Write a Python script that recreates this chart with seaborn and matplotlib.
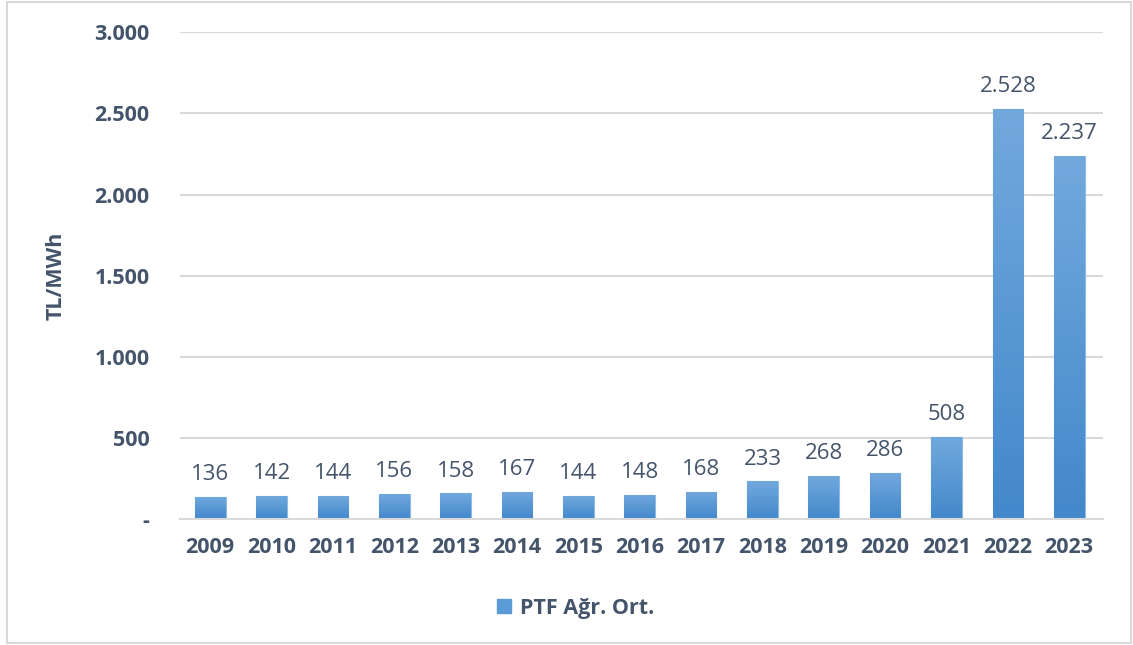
import numpy as np
import pandas as pd
import matplotlib
matplotlib.use("Agg")
import matplotlib.pyplot as plt
import seaborn as sns
from matplotlib.patches import Rectangle
from matplotlib.colors import LinearSegmentedColormap

years = ["2009", "2010", "2011", "2012", "2013", "2014", "2015", "2016",
         "2017", "2018", "2019", "2020", "2021", "2022", "2023"]
ptf = [136, 142, 144, 156, 158, 167, 144, 148, 168, 233, 268, 286, 508, 2528, 2237]
labels = ["136", "142", "144", "156", "158", "167", "144", "148", "168",
          "233", "268", "286", "508", "2.528", "2.237"]

df = pd.DataFrame({"year": years, "ptf": ptf, "series": "PTF Ağr. Ort."})

sns.set_style("white")
plt.rcParams['font.family'] = ['Open Sans', 'DejaVu Sans']

text_color = "#44546A"
bar_color = "#5B9BD5"
grad = LinearSegmentedColormap.from_list("bar", ["#4388CB", "#72A9DD"])

fig = plt.figure(figsize=(11.33, 6.45), dpi=100)
ax = fig.add_axes([0.159, 0.1953, 0.8145, 0.7547])

sns.barplot(data=df, x="year", y="ptf", hue="series", palette=[bar_color],
            saturation=1, width=0.5, ax=ax, legend=False)

ax.set_ylim(0, 3000)
ax.set_xlim(-0.49, len(years) - 0.45)

# vertical gradient inside each bar
for bar in list(ax.patches):
    x0, w, h = bar.get_x(), bar.get_width(), bar.get_height()
    bar.set_edgecolor("#8DBBE6")
    bar.set_linewidth(0.8)
    img = ax.imshow(np.linspace(0, 1, 256).reshape(-1, 1), cmap=grad, origin="lower",
                    aspect="auto", extent=[x0, x0 + w, 0, h], zorder=bar.get_zorder(),
                    interpolation="bilinear")
    img.set_clip_path(bar)
ax.set_ylim(0, 3000)
ax.set_xlim(-0.49, len(years) - 0.45)

for bar, lab in zip(ax.patches, labels):
    ax.annotate(lab, (bar.get_x() + bar.get_width() / 2, bar.get_height()),
                xytext=(0, 12), textcoords="offset points",
                ha="center", va="baseline", fontsize=16, color=text_color)

ticks = [0, 500, 1000, 1500, 2000, 2500, 3000]
ax.set_yticks(ticks)
ax.set_yticklabels(["-", "500", "1.000", "1.500", "2.000", "2.500", "3.000"])
ax.yaxis.grid(True, color="#D9D9D9", linewidth=1.5)
ax.set_axisbelow(True)
for s in ["top", "right", "left"]:
    ax.spines[s].set_visible(False)
ax.spines["bottom"].set_color("#D9D9D9")
ax.spines["bottom"].set_linewidth(1.5)
ax.tick_params(axis="y", length=0, pad=22, labelsize=15.5, labelcolor=text_color)
ax.tick_params(axis="x", length=0, pad=13, labelsize=15.5, labelcolor=text_color)
for t in ax.get_xticklabels() + ax.get_yticklabels():
    t.set_fontweight("bold")
ax.set_xlabel("")
ax.set_ylabel("TL/MWh", fontsize=15.5, fontweight="bold", color=text_color, labelpad=20)

handle = Rectangle((0, 0), 1, 1, color=bar_color)
fig.legend([handle], ["PTF Ağr. Ort."], loc="center", bbox_to_anchor=(0.508, 0.057),
           frameon=False, handlelength=0.65, handleheight=0.65, handletextpad=0.4,
           prop={"size": 15.5, "weight": "bold"}, labelcolor=text_color)

fig.patches.append(Rectangle((0.006, 0.003), 0.992, 0.994, transform=fig.transFigure,
                             fill=False, edgecolor="#D9D9D9", linewidth=1.5))

fig.savefig("out.png", dpi=100)
